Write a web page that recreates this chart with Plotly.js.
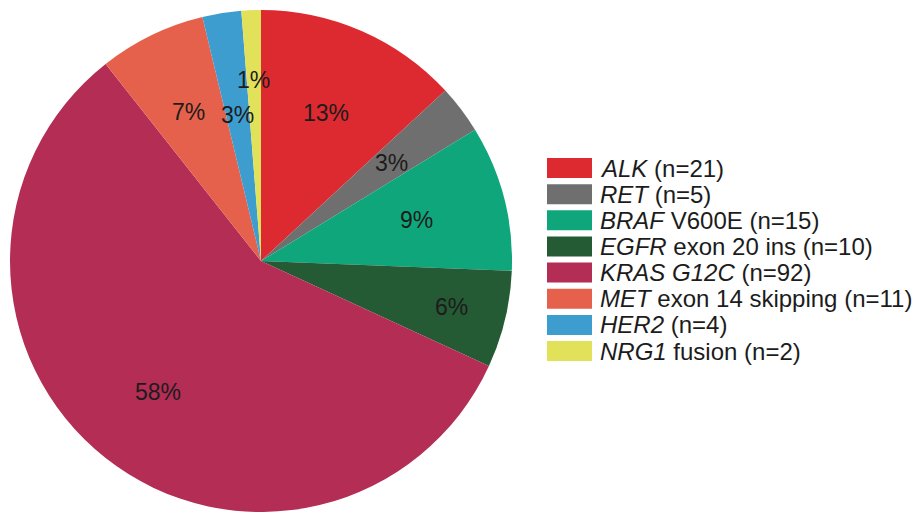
<!DOCTYPE html>
<html>
<head>
<meta charset="utf-8">
<script src="https://cdn.plot.ly/plotly-3.0.1.min.js"></script>
<style>
  html, body { margin: 0; padding: 0; background: #ffffff; }
  #chart { width: 917px; height: 512px; }
</style>
</head>
<body>
<div id="chart"></div>
<script>
// Alteration groups, in clockwise order from 12 o'clock
const genes   = ['ALK', 'RET', 'BRAF', 'EGFR', 'KRAS G12C', 'MET', 'HER2', 'NRG1'];
const details = ['', '', ' V600E', ' exon 20 ins', '', ' exon 14 skipping', '', ' fusion'];
const counts  = [21, 5, 15, 10, 92, 11, 4, 2];
const colors  = ['#dc2a30', '#6f6f6f', '#10a67c', '#245a34', '#b32d55', '#e6614c', '#3e9dcf', '#e2e25a'];

// how far out (fraction of radius) each percentage sits
const labelRadius = [0.645, 0.65, 0.64, 0.78, 0.665, 0.66, 0.59, 0.72];

const W = 917, H = 512;
const FONT = 'Liberation Sans, Arial, Helvetica, sans-serif';
const TEXT = '#1c1c1c';

// pie geometry in pixels
const pieLeft = 10, pieTop = 10, pieSize = 502;
const cx = pieLeft + pieSize / 2, cy = pieTop + pieSize / 2, R = pieSize / 2;

const total = counts.reduce((a, b) => a + b, 0);
const names = genes.map((g, i) => '<i>' + g + '</i>' + details[i] + ' (n=' + counts[i] + ')');

const trace = {
  type: 'pie',
  values: counts,
  labels: names,
  sort: false,
  direction: 'clockwise',
  rotation: 0,
  marker: { colors: colors, line: { width: 0 } },
  textinfo: 'none',
  hoverinfo: 'skip',
  showlegend: false,
  domain: { x: [pieLeft / W, (pieLeft + pieSize) / W], y: [1 - (pieTop + pieSize) / H, 1 - pieTop / H] }
};

const annotations = [];
const shapes = [];

// percentage labels at each slice's mid angle
let cum = 0;
counts.forEach((v, i) => {
  const mid = (cum + v / 2) / total * 2 * Math.PI;
  cum += v;
  const px = cx + R * labelRadius[i] * Math.sin(mid);
  const py = cy - R * labelRadius[i] * Math.cos(mid);
  annotations.push({
    xref: 'paper', yref: 'paper',
    x: px / W, y: 1 - py / H,
    text: Math.round(v * 100 / total) + '%',
    showarrow: false,
    xanchor: 'center', yanchor: 'middle',
    font: { family: FONT, size: 23, color: TEXT }
  });
});

// legend: wide swatches with labels
const legX = 547, swW = 45, swH = 20, legY0 = 168, legStep = 26.15, legTextX = 598;
names.forEach((n, i) => {
  const yc = legY0 + i * legStep;
  shapes.push({
    type: 'rect', xref: 'paper', yref: 'paper',
    x0: legX / W, x1: (legX + swW) / W,
    y0: 1 - (yc + swH / 2) / H, y1: 1 - (yc - swH / 2) / H,
    fillcolor: colors[i], line: { width: 0 }
  });
  annotations.push({
    xref: 'paper', yref: 'paper',
    x: legTextX / W, y: 1 - yc / H,
    text: n, showarrow: false,
    xanchor: 'left', yanchor: 'middle',
    font: { family: FONT, size: 24, color: TEXT }
  });
});

const layout = {
  width: W, height: H,
  margin: { l: 0, r: 0, t: 0, b: 0 },
  paper_bgcolor: '#ffffff',
  plot_bgcolor: '#ffffff',
  showlegend: false,
  annotations: annotations,
  shapes: shapes
};

Plotly.newPlot('chart', [trace], layout, { displayModeBar: false, staticPlot: true });
</script>
</body>
</html>
